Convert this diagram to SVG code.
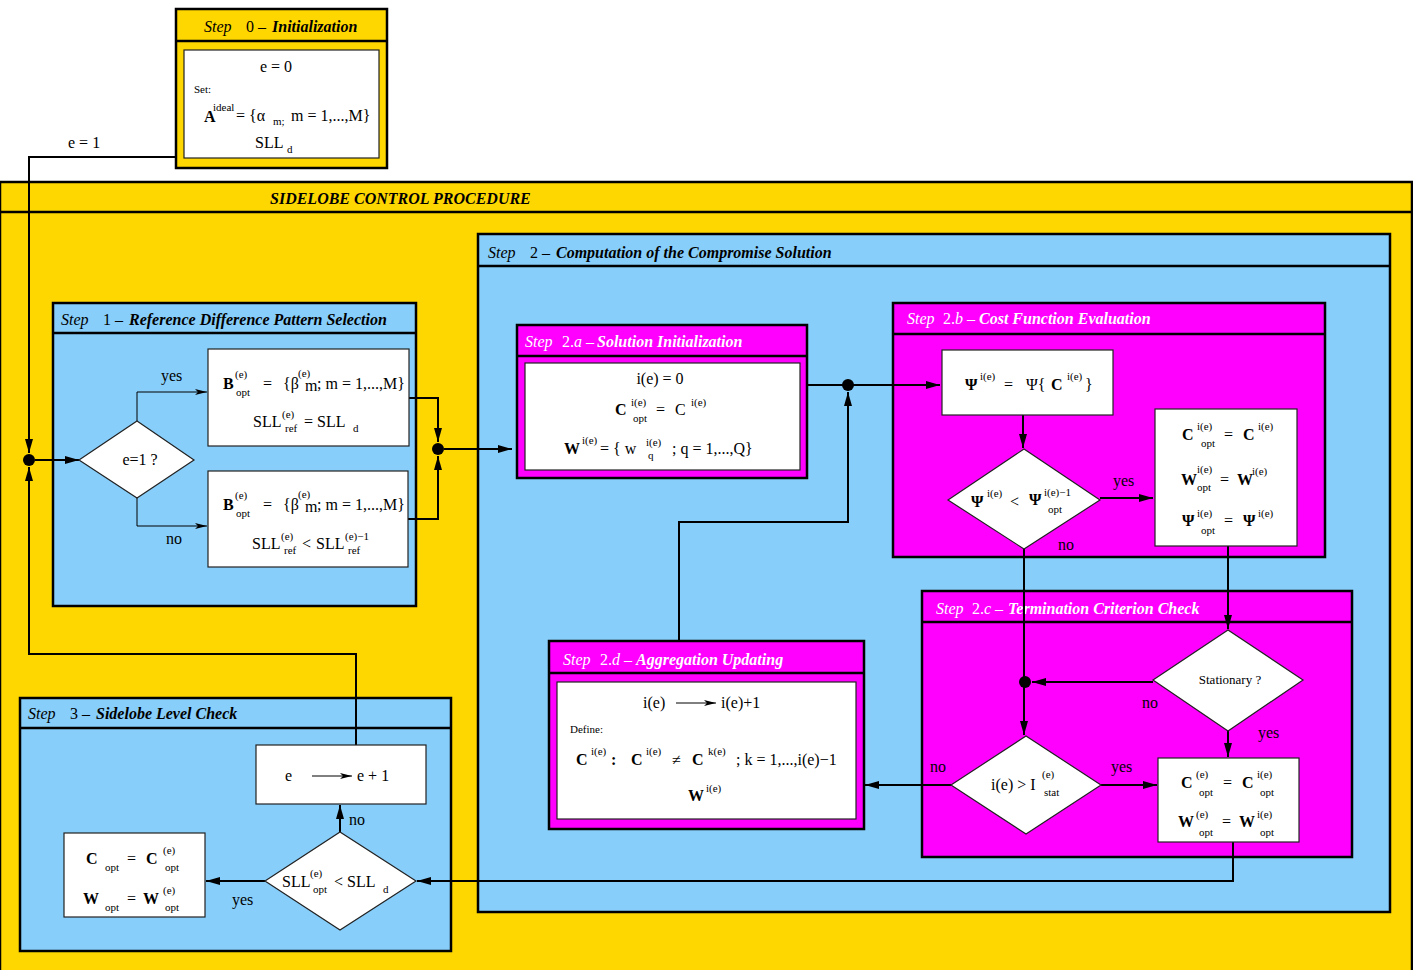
<svg xmlns="http://www.w3.org/2000/svg" width="1413" height="970" viewBox="0 0 1413 970">
<style>
  text { font-family: "Liberation Serif", "Times New Roman", serif; font-size: 16px; fill: #000; }
  .sm { font-size: 11px; }
  .b { font-weight: bold; }
  .it { font-style: italic; }
  .bi { font-style: italic; font-weight: bold; }
  .w { fill: #fff; }
  .mid { text-anchor: middle; }
  .yel { fill: #FFD700; stroke: #000; stroke-width: 2.5; }
  .blu { fill: #87CEFA; stroke: #000; stroke-width: 2.5; }
  .mag { fill: #FF00FF; stroke: #000; stroke-width: 2.5; }
  .box { fill: #fff; stroke: #222; stroke-width: 1.2; }
  .rule { stroke: #000; stroke-width: 2.5; }
  .wire { fill: none; stroke: #000; stroke-width: 2; marker-end: url(#ah); }
  .thin { fill: none; stroke: #000; stroke-width: 1; marker-end: url(#ahThin); }
  .dot { fill: #000; }
</style>
<defs>
  <marker id="ah" viewBox="0 0 14 8" refX="14" refY="4" markerWidth="14" markerHeight="8" markerUnits="userSpaceOnUse" orient="auto">
    <path d="M0,0 L14,4 L0,8 Z" fill="#000"/>
  </marker>
  <marker id="ahThin" viewBox="0 0 12 6" refX="12" refY="3" markerWidth="12" markerHeight="6" markerUnits="userSpaceOnUse" orient="auto">
    <path d="M0,0 L12,3 L0,6 L3,3 Z" fill="#000"/>
  </marker>
</defs>

<rect width="1413" height="970" fill="#fff"/>

<!-- outer procedure frame -->
<g id="procedure">
  <rect class="yel" x="0" y="182" width="1412" height="792"/>
  <line class="rule" x1="0" y1="212" x2="1412" y2="212"/>
  <text class="bi" x="270" y="204">SIDELOBE CONTROL PROCEDURE</text>
</g>

<!-- step 0 -->
<g id="step0">
  <rect class="yel" x="176" y="9" width="211" height="159"/>
  <line class="rule" x1="176" y1="41" x2="387" y2="41"/>
  <text x="204" y="32"><tspan class="it">Step</tspan><tspan x="246">0 –</tspan><tspan class="bi" x="272">Initialization</tspan></text>
  <rect class="box" x="184" y="50" width="195" height="108"/>
  <text class="mid" x="276" y="72">e = 0</text>
  <text class="sm" x="194" y="93">Set:</text>
  <text class="b" x="204" y="122">A</text>
  <text class="sm" x="213" y="111">ideal</text>
  <text x="236" y="121">= {α</text>
  <text class="sm" x="273" y="125">m;</text>
  <text x="291" y="121">m = 1,...,M}</text>
  <text x="255" y="148">SLL</text>
  <text class="sm" x="287" y="153">d</text>
</g>

<!-- step 1 -->
<g id="step1">
  <rect class="blu" x="53" y="303" width="363" height="303"/>
  <line class="rule" x1="53" y1="333" x2="416" y2="333"/>
  <text x="61" y="325"><tspan class="it">Step</tspan><tspan x="103">1 –</tspan><tspan class="bi" x="129">Reference Difference Pattern Selection</tspan></text>
</g>

<!-- step 2 -->
<g id="step2">
  <rect class="blu" x="478" y="234" width="912" height="678"/>
  <line class="rule" x1="478" y1="266" x2="1390" y2="266"/>
  <text x="488" y="258"><tspan class="it">Step</tspan><tspan x="530">2 –</tspan><tspan class="bi" x="556">Computation of the Compromise Solution</tspan></text>
</g>

<g id="step2a">
  <rect class="mag" x="517" y="325" width="290" height="153"/>
  <line class="rule" x1="517" y1="356" x2="807" y2="356"/>
  <text class="w" x="525" y="347"><tspan class="it w">Step</tspan><tspan class="w" x="562">2.<tspan class="it w">a</tspan> –</tspan><tspan class="bi w" x="597">Solution Initialization</tspan></text>
  <rect class="box" x="525" y="363" width="275" height="107"/>
  <text class="mid" x="660" y="384">i(e) = 0</text>
  <text class="b" x="615" y="415">C</text>
  <text class="sm" x="631" y="406">i(e)</text>
  <text class="sm" x="633" y="422">opt</text>
  <text x="656" y="415">=</text>
  <text x="675" y="415">C</text>
  <text class="sm" x="691" y="406">i(e)</text>
  <text class="b" x="564" y="454">W</text>
  <text class="sm" x="582" y="444">i(e)</text>
  <text x="600" y="454">= { w</text>
  <text class="sm" x="646" y="446">i(e)</text>
  <text class="sm" x="648" y="459">q</text>
  <text x="672" y="454">;   q = 1,...,Q}</text>
</g>

<g id="step2b">
  <rect class="mag" x="893" y="303" width="432" height="254"/>
  <line class="rule" x1="893" y1="334" x2="1325" y2="334"/>
  <text x="907" y="324"><tspan class="it w">Step</tspan><tspan class="w" x="943">2.<tspan class="it w">b</tspan> –</tspan><tspan class="bi w" x="979">Cost Function Evaluation</tspan></text>
</g>

<g id="step2c">
  <rect class="mag" x="922" y="591" width="430" height="266"/>
  <line class="rule" x1="922" y1="622" x2="1352" y2="622"/>
  <text x="936" y="614"><tspan class="it w">Step</tspan><tspan class="w" x="972">2.<tspan class="it w">c</tspan> –</tspan><tspan class="bi w" x="1008">Termination Criterion Check</tspan></text>
</g>

<g id="step2d">
  <rect class="mag" x="549" y="641" width="315" height="188"/>
  <line class="rule" x1="549" y1="673" x2="864" y2="673"/>
  <text x="563" y="665"><tspan class="it w">Step</tspan><tspan class="w" x="600">2.<tspan class="it w">d</tspan> –</tspan><tspan class="bi w" x="636">Aggregation Updating</tspan></text>
  <rect class="box" x="557" y="682" width="299" height="137"/>
  <text x="643" y="708">i(e)</text>
  <line x1="676" y1="703" x2="716" y2="703" class="thin"/>
  <text x="721" y="708">i(e)+1</text>
  <text class="sm" x="570" y="733">Define:</text>
  <text class="b" x="576" y="765">C</text>
  <text class="sm" x="591" y="755">i(e)</text>
  <text class="b" x="611" y="765">:</text>
  <text class="b" x="631" y="765">C</text>
  <text class="sm" x="646" y="755">i(e)</text>
  <text x="672" y="765">≠</text>
  <text class="b" x="692" y="765">C</text>
  <text class="sm" x="708" y="755">k(e)</text>
  <text x="736" y="765">; k = 1,...,i(e)−1</text>
  <text class="b" x="688" y="801">W</text>
  <text class="sm" x="706" y="792">i(e)</text>
</g>

<!-- step 3 -->
<g id="step3">
  <rect class="blu" x="20" y="698" width="431" height="253"/>
  <line class="rule" x1="20" y1="728" x2="451" y2="728"/>
  <text x="28" y="719"><tspan class="it">Step</tspan><tspan x="70">3 –</tspan><tspan class="bi" x="96">Sidelobe Level Check</tspan></text>
</g>

<!-- connectors -->
<g id="connectors">
  <path class="wire" d="M176,157 H29 V453"/>
  <path class="wire" d="M356,745 V654 H29 V467"/>
  <path class="wire" d="M35,460 H79"/>
  <path class="thin" d="M137,421 V392 H207"/>
  <path class="thin" d="M137,498 V526 H207"/>
  <path class="wire" d="M409,398 H438 V442"/>
  <path class="wire" d="M408,519 H438 V456"/>
  <path class="wire" d="M444,449 H512"/>
  <path class="wire" d="M807,385 H940"/>
  <path class="wire" d="M679,641 V522 H848 V392"/>
  <path class="wire" d="M1023,415 V448"/>
  <path class="wire" d="M1100,498 H1153"/>
  <path class="wire" d="M1024,549 V735"/>
  <path class="wire" d="M1153,682 H1032"/>
  <path class="wire" d="M1228,546 V629"/>
  <path class="wire" d="M1228,731 V757"/>
  <path class="wire" d="M1101,785 H1157"/>
  <path class="wire" d="M951,785 H865"/>
  <path class="wire" d="M1233,842 V881 H417"/>
  <path class="wire" d="M340,832 V805"/>
  <path class="wire" d="M265,881 H206"/>
  <circle class="dot" cx="29" cy="460" r="6"/>
  <circle class="dot" cx="438" cy="449" r="6"/>
  <circle class="dot" cx="848" cy="385" r="6"/>
  <circle class="dot" cx="1025" cy="682" r="6"/>
  <text x="68" y="148">e = 1</text>
  <text x="161" y="381">yes</text>
  <text x="166" y="544">no</text>
  <text x="1113" y="486">yes</text>
  <text x="1058" y="550">no</text>
  <text x="1142" y="708">no</text>
  <text x="1258" y="738">yes</text>
  <text x="1111" y="772">yes</text>
  <text x="930" y="772">no</text>
  <text x="349" y="825">no</text>
  <text x="232" y="905">yes</text>
</g>

<!-- step 1 nodes -->
<g id="check-e1">
  <polygon class="box" points="79,460 137,421 194,460 137,498"/>
  <text class="mid" x="140" y="465">e=1 ?</text>
</g>
<g id="ref-first">
  <rect class="box" x="208" y="349" width="201" height="97"/>
  <text class="b" x="223" y="389">B</text>
  <text class="sm" x="235" y="378">(e)</text>
  <text class="sm" x="236" y="396">opt</text>
  <text x="263" y="389">=</text>
  <text x="283" y="389">{β</text>
  <text class="sm" x="298" y="377">(e)</text>
  <text x="305" y="391">m</text>
  <text x="317" y="389">; m = 1,...,M}</text>
  <text x="253" y="427">SLL</text>
  <text class="sm" x="282" y="418">(e)</text>
  <text class="sm" x="285" y="432">ref</text>
  <text x="304" y="427">= SLL</text>
  <text class="sm" x="353" y="432">d</text>
</g>
<g id="ref-next">
  <rect class="box" x="208" y="471" width="200" height="96"/>
  <text class="b" x="223" y="510">B</text>
  <text class="sm" x="235" y="499">(e)</text>
  <text class="sm" x="236" y="517">opt</text>
  <text x="263" y="510">=</text>
  <text x="283" y="510">{β</text>
  <text class="sm" x="298" y="498">(e)</text>
  <text x="305" y="512">m</text>
  <text x="317" y="510">; m = 1,...,M}</text>
  <text x="252" y="549">SLL</text>
  <text class="sm" x="281" y="540">(e)</text>
  <text class="sm" x="284" y="554">ref</text>
  <text x="302" y="549">&lt;</text>
  <text x="316" y="549">SLL</text>
  <text class="sm" x="345" y="540">(e)−1</text>
  <text class="sm" x="348" y="554">ref</text>
</g>

<!-- step 2.b nodes -->
<g id="cost-eval">
  <rect class="box" x="942" y="350" width="171" height="65"/>
  <text class="b" x="965" y="390">Ψ</text>
  <text class="sm" x="980" y="380">i(e)</text>
  <text x="1004" y="390">=</text>
  <text x="1026" y="390">Ψ{</text>
  <text class="b" x="1051" y="390">C</text>
  <text class="sm" x="1067" y="380">i(e)</text>
  <text x="1085" y="390">}</text>
</g>
<g id="cost-check">
  <polygon class="box" points="948,500 1024,449 1100,500 1024,549"/>
  <text class="b" x="971" y="507">Ψ</text>
  <text class="sm" x="987" y="497">i(e)</text>
  <text x="1010" y="507">&lt;</text>
  <text class="b" x="1029" y="505">Ψ</text>
  <text class="sm" x="1044" y="496">i(e)−1</text>
  <text class="sm" x="1048" y="513">opt</text>
</g>
<g id="best-update">
  <rect class="box" x="1155" y="409" width="142" height="137"/>
  <text class="b" x="1182" y="440">C</text>
  <text class="sm" x="1197" y="430">i(e)</text>
  <text class="sm" x="1201" y="447">opt</text>
  <text x="1224" y="440">=</text>
  <text class="b" x="1243" y="440">C</text>
  <text class="sm" x="1258" y="430">i(e)</text>
  <text class="b" x="1181" y="485">W</text>
  <text class="sm" x="1197" y="473">i(e)</text>
  <text class="sm" x="1197" y="491">opt</text>
  <text x="1220" y="485">=</text>
  <text class="b" x="1237" y="485">W</text>
  <text class="sm" x="1252" y="475">i(e)</text>
  <text class="b" x="1182" y="526">Ψ</text>
  <text class="sm" x="1197" y="517">i(e)</text>
  <text class="sm" x="1201" y="534">opt</text>
  <text x="1224" y="526">=</text>
  <text class="b" x="1243" y="526">Ψ</text>
  <text class="sm" x="1258" y="517">i(e)</text>
</g>

<!-- step 2.c nodes -->
<g id="stationary">
  <polygon class="box" points="1153,680 1228,630 1303,680 1228,731"/>
  <text class="mid" x="1230" y="684" style="font-size:13px">Stationary ?</text>
</g>
<g id="iter-check">
  <polygon class="box" points="951,785 1026,736 1101,785 1026,834"/>
  <text x="991" y="790">i(e) &gt; I</text>
  <text class="sm" x="1042" y="778">(e)</text>
  <text class="sm" x="1044" y="796">stat</text>
</g>
<g id="step-result">
  <rect class="box" x="1158" y="758" width="141" height="84"/>
  <text class="b" x="1181" y="788">C</text>
  <text class="sm" x="1196" y="778">(e)</text>
  <text class="sm" x="1199" y="796">opt</text>
  <text x="1223" y="788">=</text>
  <text class="b" x="1242" y="788">C</text>
  <text class="sm" x="1257" y="778">i(e)</text>
  <text class="sm" x="1260" y="796">opt</text>
  <text class="b" x="1178" y="827">W</text>
  <text class="sm" x="1196" y="818">(e)</text>
  <text class="sm" x="1199" y="836">opt</text>
  <text x="1222" y="827">=</text>
  <text class="b" x="1239" y="827">W</text>
  <text class="sm" x="1257" y="818">i(e)</text>
  <text class="sm" x="1260" y="836">opt</text>
</g>

<!-- step 3 nodes -->
<g id="next-e">
  <rect class="box" x="256" y="745" width="170" height="59"/>
  <text x="285" y="781">e</text>
  <line x1="312" y1="776" x2="352" y2="776" class="thin"/>
  <text x="357" y="781">e + 1</text>
</g>
<g id="sll-check">
  <polygon class="box" points="265,881 340,832 416,881 340,930"/>
  <text x="282" y="887">SLL</text>
  <text class="sm" x="310" y="877">(e)</text>
  <text class="sm" x="313" y="893">opt</text>
  <text x="334" y="887">&lt; SLL</text>
  <text class="sm" x="383" y="893">d</text>
</g>
<g id="final-result">
  <rect class="box" x="64" y="833" width="141" height="84"/>
  <text class="b" x="86" y="864">C</text>
  <text class="sm" x="105" y="871">opt</text>
  <text x="127" y="864">=</text>
  <text class="b" x="146" y="864">C</text>
  <text class="sm" x="163" y="854">(e)</text>
  <text class="sm" x="165" y="871">opt</text>
  <text class="b" x="83" y="904">W</text>
  <text class="sm" x="105" y="911">opt</text>
  <text x="127" y="904">=</text>
  <text class="b" x="143" y="904">W</text>
  <text class="sm" x="163" y="894">(e)</text>
  <text class="sm" x="165" y="911">opt</text>
</g>
</svg>
